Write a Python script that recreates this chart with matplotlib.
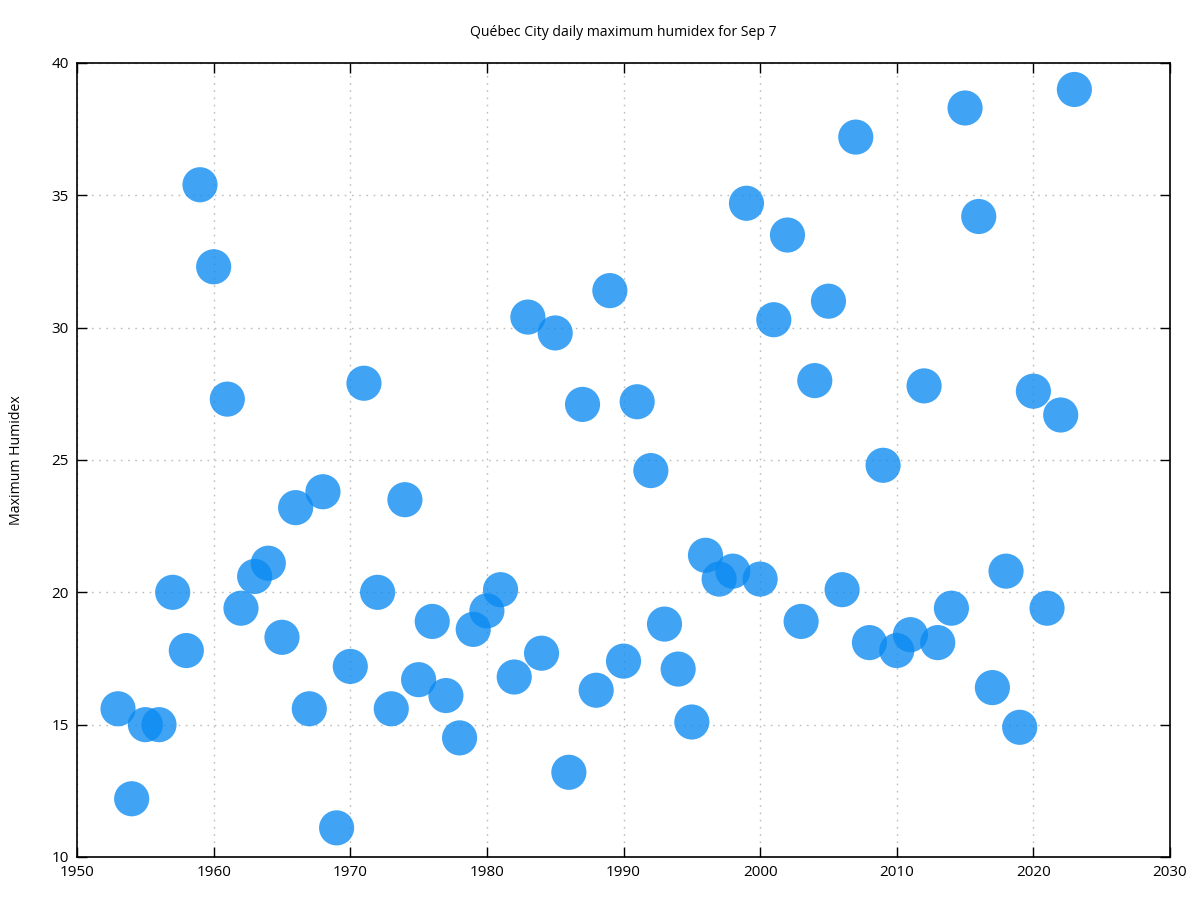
import matplotlib
matplotlib.use("Agg")
import matplotlib.pyplot as plt
import numpy as np

plt.rcParams.update({
    "font.family": ["Open Sans", "DejaVu Sans"],
    "font.size": 11,
})

years = np.arange(1953, 2024)
humidex = [
    15.6, 12.2, 15.0, 15.0, 20.0, 17.8, 35.4, 32.3, 27.3, 19.4,   # 1953-1962
    20.6, 21.1, 18.3, 23.2, 15.6, 23.8, 11.1, 17.2, 27.9, 20.0,   # 1963-1972
    15.6, 23.5, 16.7, 18.9, 16.1, 14.5, 18.6, 19.3, 20.1, 16.8,   # 1973-1982
    30.4, 17.7, 29.8, 13.2, 27.1, 16.3, 31.4, 17.4, 27.2, 24.6,   # 1983-1992
    18.8, 17.1, 15.1, 21.4, 20.5, 20.8, 34.7, 20.5, 30.3, 33.5,   # 1993-2002
    18.9, 28.0, 31.0, 20.1, 37.2, 18.1, 24.8, 17.8, 18.4, 27.8,   # 2003-2012
    18.1, 19.4, 38.3, 34.2, 16.4, 20.8, 14.9, 27.6, 19.4, 26.7,   # 2013-2022
    39.0,                                                         # 2023
]

fig = plt.figure(figsize=(12, 9), dpi=100)
ax = fig.add_axes([0.0642, 0.0478, 0.9108, 0.8822])

ax.scatter(years, humidex, s=640, color="#0a8af1", alpha=0.78,
           edgecolors="none", zorder=3)

ax.set_xlim(1950, 2030)
ax.set_ylim(10, 40)
ax.set_xticks(np.arange(1950, 2031, 10))
ax.set_yticks(np.arange(10, 41, 5))
ax.grid(True, color="#bdbdbd", linestyle=(0, (1.2, 4)), linewidth=1.0, zorder=0)
ax.tick_params(direction="in", length=7, width=1, top=True, right=True,
               labelsize=11, pad=6)
for sp in ax.spines.values():
    sp.set_linewidth(1.2)

fig.text(17 / 1200, 1 - 460 / 900, "Maximum Humidex", rotation=90,
         ha="center", va="center", fontsize=10.2)
fig.text(623 / 1200, 1 - 32 / 900, "Québec City daily maximum humidex for Sep 7",
         ha="center", va="center", fontsize=10.1)

fig.savefig("out.png", dpi=100)
